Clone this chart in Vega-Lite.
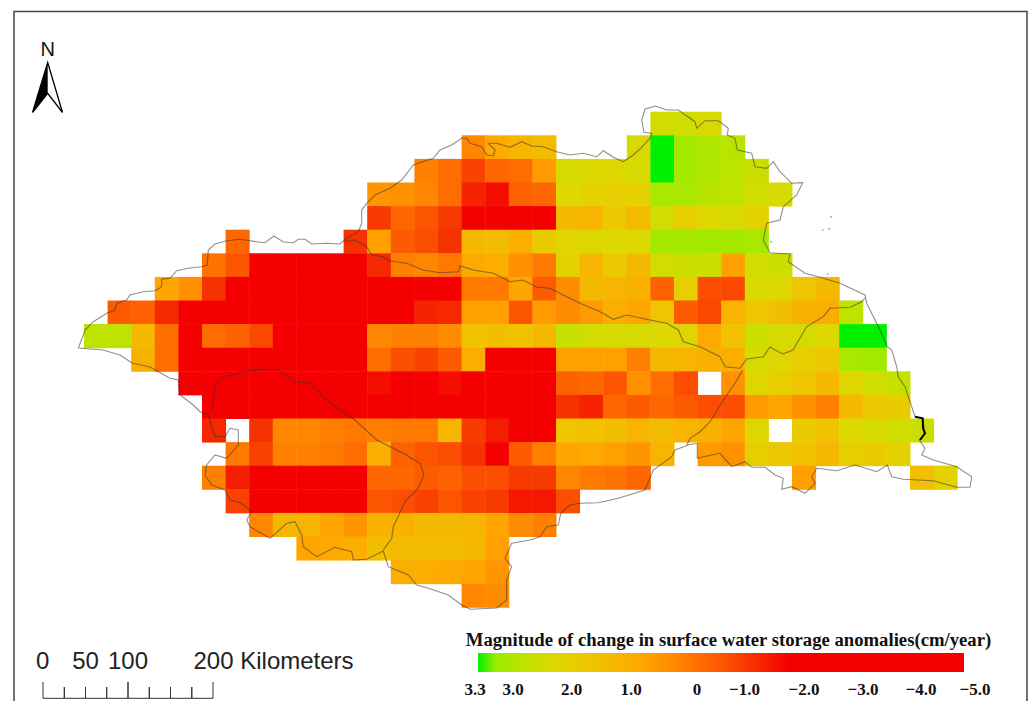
{
"$schema":"https://vega.github.io/schema/vega-lite/v6.json",
"width":1029,"height":701,"padding":0,"autosize":{"type":"none"},"background":"white",
"config":{"view":{"stroke":null}},
"resolve":{"scale":{"x":"independent","y":"independent"}},
"encoding":{
"x":{"field":"mx","type":"quantitative","axis":null,"scale":{"domain":[0,1029],"nice":false,"zero":false}},
"y":{"field":"my","type":"quantitative","axis":null,"scale":{"domain":[701,0],"nice":false,"zero":false}}
},
"layer":[
{"data":{"values":[
{"c":24,"r":0,"v":2.2},{"c":25,"r":0,"v":2.2},{"c":26,"r":0,"v":2.05},
{"c":16,"r":1,"v":-0.1},{"c":17,"r":1,"v":0.6},{"c":18,"r":1,"v":0.9},{"c":19,"r":1,"v":1.1},{"c":23,"r":1,"v":2.1},{"c":24,"r":1,"v":3.3},{"c":25,"r":1,"v":2.9},{"c":26,"r":1,"v":2.75},{"c":27,"r":1,"v":2.6},
{"c":14,"r":2,"v":-0.2},{"c":15,"r":2,"v":-0.5},{"c":16,"r":2,"v":-1.2},{"c":17,"r":2,"v":-0.6},{"c":18,"r":2,"v":-0.5},{"c":19,"r":2,"v":0.3},{"c":20,"r":2,"v":2.1},{"c":21,"r":2,"v":2.0},{"c":22,"r":2,"v":2.0},{"c":23,"r":2,"v":2.1},{"c":24,"r":2,"v":3.3},{"c":25,"r":2,"v":2.85},{"c":26,"r":2,"v":2.7},{"c":27,"r":2,"v":2.55},{"c":28,"r":2,"v":2.3},
{"c":12,"r":3,"v":0.2},{"c":13,"r":3,"v":0.1},{"c":14,"r":3,"v":-0.1},{"c":15,"r":3,"v":-0.5},{"c":16,"r":3,"v":-1.6},{"c":17,"r":3,"v":-1.9},{"c":18,"r":3,"v":-0.7},{"c":19,"r":3,"v":-0.6},{"c":20,"r":3,"v":2.0},{"c":21,"r":3,"v":1.8},{"c":22,"r":3,"v":1.7},{"c":23,"r":3,"v":1.8},{"c":24,"r":3,"v":2.8},{"c":25,"r":3,"v":2.8},{"c":26,"r":3,"v":2.6},{"c":27,"r":3,"v":2.5},{"c":28,"r":3,"v":2.2},{"c":29,"r":3,"v":2.1},
{"c":12,"r":4,"v":-1.3},{"c":13,"r":4,"v":-0.6},{"c":14,"r":4,"v":-0.9},{"c":15,"r":4,"v":-1.3},{"c":16,"r":4,"v":-2.5},{"c":17,"r":4,"v":-2.5},{"c":18,"r":4,"v":-2.5},{"c":19,"r":4,"v":-2.5},{"c":20,"r":4,"v":1.0},{"c":21,"r":4,"v":0.9},{"c":22,"r":4,"v":1.5},{"c":23,"r":4,"v":1.1},{"c":24,"r":4,"v":2.2},{"c":25,"r":4,"v":1.7},{"c":26,"r":4,"v":2.0},{"c":27,"r":4,"v":2.1},{"c":28,"r":4,"v":1.8},
{"c":6,"r":5,"v":-0.6},{"c":11,"r":5,"v":-1.4},{"c":12,"r":5,"v":0.4},{"c":13,"r":5,"v":-0.8},{"c":14,"r":5,"v":-1.0},{"c":15,"r":5,"v":-1.4},{"c":16,"r":5,"v":1.0},{"c":17,"r":5,"v":1.1},{"c":18,"r":5,"v":0.7},{"c":19,"r":5,"v":1.6},{"c":20,"r":5,"v":1.9},{"c":21,"r":5,"v":2.0},{"c":22,"r":5,"v":2.0},{"c":23,"r":5,"v":2.0},{"c":24,"r":5,"v":2.85},{"c":25,"r":5,"v":2.85},{"c":26,"r":5,"v":2.9},{"c":27,"r":5,"v":2.85},{"c":28,"r":5,"v":2.8},
{"c":5,"r":6,"v":-0.4},{"c":6,"r":6,"v":-0.9},{"c":7,"r":6,"v":-2.5},{"c":8,"r":6,"v":-2.5},{"c":9,"r":6,"v":-2.5},{"c":10,"r":6,"v":-2.5},{"c":11,"r":6,"v":-2.5},{"c":12,"r":6,"v":-1.5},{"c":13,"r":6,"v":-0.2},{"c":14,"r":6,"v":-0.1},{"c":15,"r":6,"v":-0.3},{"c":16,"r":6,"v":0.6},{"c":17,"r":6,"v":0.7},{"c":18,"r":6,"v":0.1},{"c":19,"r":6,"v":-0.3},{"c":20,"r":6,"v":1.8},{"c":21,"r":6,"v":0.9},{"c":22,"r":6,"v":1.5},{"c":23,"r":6,"v":1.0},{"c":24,"r":6,"v":2.2},{"c":25,"r":6,"v":2.3},{"c":26,"r":6,"v":2.3},{"c":27,"r":6,"v":0.4},{"c":28,"r":6,"v":2.2},{"c":29,"r":6,"v":2.3},
{"c":3,"r":7,"v":0.5},{"c":4,"r":7,"v":0.1},{"c":5,"r":7,"v":-1.4},{"c":6,"r":7,"v":-2.5},{"c":7,"r":7,"v":-2.5},{"c":8,"r":7,"v":-2.5},{"c":9,"r":7,"v":-2.5},{"c":10,"r":7,"v":-2.5},{"c":11,"r":7,"v":-2.5},{"c":12,"r":7,"v":-2.5},{"c":13,"r":7,"v":-2.5},{"c":14,"r":7,"v":-2.5},{"c":15,"r":7,"v":-2.5},{"c":16,"r":7,"v":-0.3},{"c":17,"r":7,"v":-0.3},{"c":18,"r":7,"v":0.5},{"c":19,"r":7,"v":-0.8},{"c":20,"r":7,"v":0.0},{"c":21,"r":7,"v":1.0},{"c":22,"r":7,"v":0.9},{"c":23,"r":7,"v":0.8},{"c":24,"r":7,"v":-0.7},{"c":25,"r":7,"v":1.7},{"c":26,"r":7,"v":-1.0},{"c":27,"r":7,"v":-1.1},{"c":28,"r":7,"v":2.1},{"c":29,"r":7,"v":2.0},{"c":30,"r":7,"v":1.4},{"c":31,"r":7,"v":1.0},
{"c":1,"r":8,"v":-0.8},{"c":2,"r":8,"v":-0.7},{"c":3,"r":8,"v":-1.5},{"c":4,"r":8,"v":-2.5},{"c":5,"r":8,"v":-2.5},{"c":6,"r":8,"v":-2.5},{"c":7,"r":8,"v":-2.5},{"c":8,"r":8,"v":-2.5},{"c":9,"r":8,"v":-2.5},{"c":10,"r":8,"v":-2.5},{"c":11,"r":8,"v":-2.5},{"c":12,"r":8,"v":-2.5},{"c":13,"r":8,"v":-2.5},{"c":14,"r":8,"v":-1.6},{"c":15,"r":8,"v":-1.5},{"c":16,"r":8,"v":0.4},{"c":17,"r":8,"v":0.4},{"c":18,"r":8,"v":-0.9},{"c":19,"r":8,"v":0.3},{"c":20,"r":8,"v":0.0},{"c":21,"r":8,"v":0.3},{"c":22,"r":8,"v":0.7},{"c":23,"r":8,"v":0.5},{"c":24,"r":8,"v":1.4},{"c":25,"r":8,"v":-0.8},{"c":26,"r":8,"v":-1.1},{"c":27,"r":8,"v":0.9},{"c":28,"r":8,"v":1.4},{"c":29,"r":8,"v":1.2},{"c":30,"r":8,"v":0.8},{"c":31,"r":8,"v":0.7},{"c":32,"r":8,"v":2.5},
{"c":0,"r":9,"v":2.5},{"c":1,"r":9,"v":2.5},{"c":2,"r":9,"v":1.0},{"c":3,"r":9,"v":-0.5},{"c":4,"r":9,"v":-2.5},{"c":5,"r":9,"v":-0.5},{"c":6,"r":9,"v":-0.7},{"c":7,"r":9,"v":-1.1},{"c":8,"r":9,"v":-2.3},{"c":9,"r":9,"v":-2.5},{"c":10,"r":9,"v":-2.5},{"c":11,"r":9,"v":-2.5},{"c":12,"r":9,"v":-0.1},{"c":13,"r":9,"v":-0.2},{"c":14,"r":9,"v":-0.2},{"c":15,"r":9,"v":0.0},{"c":16,"r":9,"v":1.3},{"c":17,"r":9,"v":1.2},{"c":18,"r":9,"v":1.3},{"c":19,"r":9,"v":1.0},{"c":20,"r":9,"v":2.4},{"c":21,"r":9,"v":2.2},{"c":22,"r":9,"v":2.1},{"c":23,"r":9,"v":2.1},{"c":24,"r":9,"v":2.0},{"c":25,"r":9,"v":1.9},{"c":26,"r":9,"v":0.6},{"c":27,"r":9,"v":1.3},{"c":28,"r":9,"v":2.3},{"c":29,"r":9,"v":2.1},{"c":30,"r":9,"v":2.1},{"c":31,"r":9,"v":2.0},{"c":32,"r":9,"v":3.3},{"c":33,"r":9,"v":3.3},
{"c":2,"r":10,"v":0.8},{"c":3,"r":10,"v":-0.5},{"c":4,"r":10,"v":-2.5},{"c":5,"r":10,"v":-2.5},{"c":6,"r":10,"v":-2.5},{"c":7,"r":10,"v":-2.5},{"c":8,"r":10,"v":-2.5},{"c":9,"r":10,"v":-2.5},{"c":10,"r":10,"v":-2.5},{"c":11,"r":10,"v":-2.5},{"c":12,"r":10,"v":-0.5},{"c":13,"r":10,"v":-1.0},{"c":14,"r":10,"v":-1.2},{"c":15,"r":10,"v":-0.8},{"c":16,"r":10,"v":0.7},{"c":17,"r":10,"v":-2.5},{"c":18,"r":10,"v":-2.5},{"c":19,"r":10,"v":-2.5},{"c":20,"r":10,"v":0.4},{"c":21,"r":10,"v":0.4},{"c":22,"r":10,"v":0.4},{"c":23,"r":10,"v":-0.2},{"c":24,"r":10,"v":1.0},{"c":25,"r":10,"v":0.9},{"c":26,"r":10,"v":0.8},{"c":27,"r":10,"v":0.7},{"c":28,"r":10,"v":2.1},{"c":29,"r":10,"v":1.9},{"c":30,"r":10,"v":1.7},{"c":31,"r":10,"v":1.5},{"c":32,"r":10,"v":2.8},{"c":33,"r":10,"v":2.9},
{"c":4,"r":11,"v":-2.5},{"c":5,"r":11,"v":-2.5},{"c":6,"r":11,"v":-2.5},{"c":7,"r":11,"v":-2.5},{"c":8,"r":11,"v":-2.5},{"c":9,"r":11,"v":-2.5},{"c":10,"r":11,"v":-2.5},{"c":11,"r":11,"v":-2.5},{"c":12,"r":11,"v":-1.9},{"c":13,"r":11,"v":-2.5},{"c":14,"r":11,"v":-2.5},{"c":15,"r":11,"v":-1.9},{"c":16,"r":11,"v":-2.5},{"c":17,"r":11,"v":-2.5},{"c":18,"r":11,"v":-2.5},{"c":19,"r":11,"v":-2.5},{"c":20,"r":11,"v":-0.7},{"c":21,"r":11,"v":-0.6},{"c":22,"r":11,"v":-0.9},{"c":23,"r":11,"v":0.1},{"c":24,"r":11,"v":-0.5},{"c":25,"r":11,"v":-1.0},{"c":27,"r":11,"v":0.1},{"c":28,"r":11,"v":1.9},{"c":29,"r":11,"v":1.7},{"c":30,"r":11,"v":1.4},{"c":31,"r":11,"v":1.0},{"c":32,"r":11,"v":1.9},{"c":33,"r":11,"v":2.2},{"c":34,"r":11,"v":2.4},
{"c":5,"r":12,"v":-2.5},{"c":6,"r":12,"v":-2.5},{"c":7,"r":12,"v":-2.5},{"c":8,"r":12,"v":-2.5},{"c":9,"r":12,"v":-2.5},{"c":10,"r":12,"v":-2.5},{"c":11,"r":12,"v":-2.5},{"c":12,"r":12,"v":-2.5},{"c":13,"r":12,"v":-2.5},{"c":14,"r":12,"v":-2.5},{"c":15,"r":12,"v":-2.5},{"c":16,"r":12,"v":-2.5},{"c":17,"r":12,"v":-2.5},{"c":18,"r":12,"v":-2.5},{"c":19,"r":12,"v":-2.5},{"c":20,"r":12,"v":-1.4},{"c":21,"r":12,"v":-1.6},{"c":22,"r":12,"v":-0.6},{"c":23,"r":12,"v":-0.8},{"c":24,"r":12,"v":-0.6},{"c":25,"r":12,"v":-0.8},{"c":26,"r":12,"v":-1.0},{"c":27,"r":12,"v":-1.0},{"c":28,"r":12,"v":0.3},{"c":29,"r":12,"v":0.5},{"c":30,"r":12,"v":0.1},{"c":31,"r":12,"v":-0.2},{"c":32,"r":12,"v":1.0},{"c":33,"r":12,"v":1.5},{"c":34,"r":12,"v":1.6},
{"c":5,"r":13,"v":-1.5},{"c":7,"r":13,"v":-1.4},{"c":8,"r":13,"v":-0.1},{"c":9,"r":13,"v":-0.1},{"c":10,"r":13,"v":-0.2},{"c":11,"r":13,"v":-0.3},{"c":12,"r":13,"v":-0.2},{"c":13,"r":13,"v":-0.3},{"c":14,"r":13,"v":-0.3},{"c":15,"r":13,"v":0.9},{"c":16,"r":13,"v":-1.3},{"c":17,"r":13,"v":-1.7},{"c":18,"r":13,"v":-2.5},{"c":19,"r":13,"v":-2.5},{"c":20,"r":13,"v":1.4},{"c":21,"r":13,"v":1.3},{"c":22,"r":13,"v":1.2},{"c":23,"r":13,"v":0.9},{"c":24,"r":13,"v":1.1},{"c":25,"r":13,"v":0.9},{"c":26,"r":13,"v":0.8},{"c":27,"r":13,"v":0.5},{"c":28,"r":13,"v":1.9},{"c":30,"r":13,"v":1.6},{"c":31,"r":13,"v":1.3},{"c":32,"r":13,"v":2.0},{"c":33,"r":13,"v":2.1},{"c":34,"r":13,"v":2.2},{"c":35,"r":13,"v":2.3},
{"c":6,"r":14,"v":-0.3},{"c":7,"r":14,"v":-1.2},{"c":8,"r":14,"v":-0.2},{"c":9,"r":14,"v":-0.2},{"c":10,"r":14,"v":-0.3},{"c":11,"r":14,"v":-0.5},{"c":12,"r":14,"v":0.7},{"c":13,"r":14,"v":-0.7},{"c":14,"r":14,"v":-0.9},{"c":15,"r":14,"v":-1.0},{"c":16,"r":14,"v":-1.4},{"c":17,"r":14,"v":-2.5},{"c":18,"r":14,"v":-0.8},{"c":19,"r":14,"v":-0.2},{"c":20,"r":14,"v":0.5},{"c":21,"r":14,"v":0.6},{"c":22,"r":14,"v":0.4},{"c":23,"r":14,"v":0.2},{"c":24,"r":14,"v":0.9},{"c":26,"r":14,"v":0.3},{"c":27,"r":14,"v":0.1},{"c":28,"r":14,"v":1.7},{"c":29,"r":14,"v":1.5},{"c":30,"r":14,"v":1.3},{"c":31,"r":14,"v":1.0},{"c":32,"r":14,"v":1.7},{"c":33,"r":14,"v":1.6},{"c":34,"r":14,"v":1.8},
{"c":5,"r":15,"v":-0.2},{"c":6,"r":15,"v":-1.7},{"c":7,"r":15,"v":-2.5},{"c":8,"r":15,"v":-2.5},{"c":9,"r":15,"v":-2.5},{"c":10,"r":15,"v":-2.5},{"c":11,"r":15,"v":-2.5},{"c":12,"r":15,"v":-0.6},{"c":13,"r":15,"v":-0.6},{"c":14,"r":15,"v":-0.8},{"c":15,"r":15,"v":-0.7},{"c":16,"r":15,"v":-1.0},{"c":17,"r":15,"v":-1.0},{"c":18,"r":15,"v":-1.3},{"c":19,"r":15,"v":-1.3},{"c":20,"r":15,"v":-0.1},{"c":21,"r":15,"v":-0.3},{"c":22,"r":15,"v":-0.4},{"c":23,"r":15,"v":-0.6},{"c":30,"r":15,"v":0.4},{"c":35,"r":15,"v":1.2},{"c":36,"r":15,"v":1.8},
{"c":6,"r":16,"v":-1.2},{"c":7,"r":16,"v":-2.5},{"c":8,"r":16,"v":-2.5},{"c":9,"r":16,"v":-2.5},{"c":10,"r":16,"v":-2.5},{"c":11,"r":16,"v":-2.5},{"c":12,"r":16,"v":-0.9},{"c":13,"r":16,"v":-1.0},{"c":14,"r":16,"v":-1.2},{"c":15,"r":16,"v":-0.9},{"c":16,"r":16,"v":-1.2},{"c":17,"r":16,"v":-1.3},{"c":18,"r":16,"v":-1.8},{"c":19,"r":16,"v":-1.8},{"c":20,"r":16,"v":-1.0},
{"c":7,"r":17,"v":-0.1},{"c":8,"r":17,"v":1.0},{"c":9,"r":17,"v":0.9},{"c":10,"r":17,"v":0.5},{"c":11,"r":17,"v":0.2},{"c":12,"r":17,"v":0.8},{"c":13,"r":17,"v":0.8},{"c":14,"r":17,"v":1.0},{"c":15,"r":17,"v":1.0},{"c":16,"r":17,"v":0.9},{"c":17,"r":17,"v":0.5},{"c":18,"r":17,"v":0.0},{"c":19,"r":17,"v":-0.2},
{"c":9,"r":18,"v":0.5},{"c":10,"r":18,"v":0.6},{"c":11,"r":18,"v":0.7},{"c":12,"r":18,"v":1.2},{"c":13,"r":18,"v":1.1},{"c":14,"r":18,"v":1.1},{"c":15,"r":18,"v":1.1},{"c":16,"r":18,"v":1.0},{"c":17,"r":18,"v":0.4},
{"c":13,"r":19,"v":0.7},{"c":14,"r":19,"v":0.7},{"c":15,"r":19,"v":0.6},{"c":16,"r":19,"v":0.5},{"c":17,"r":19,"v":0.2},
{"c":16,"r":20,"v":-0.1},{"c":17,"r":20,"v":0.0}
]},
"transform":[{"calculate":"datum.c+1.02","as":"c2"},{"calculate":"datum.r+1.02","as":"r2"}],
"mark":{"type":"rect","strokeWidth":0},
"encoding":{
"x":{"field":"c","type":"quantitative","axis":null,"scale":{"domain":[-3.559,40.042],"nice":false,"zero":false}},
"x2":{"field":"c2"},
"y":{"field":"r","type":"quantitative","axis":null,"scale":{"domain":[24.97,-4.733],"nice":false,"zero":false}},
"y2":{"field":"r2"},
"color":{"field":"v","type":"quantitative",
"scale":{"domain":[3.3,3,2.5,2,1.5,1,0.5,0,-0.5,-1,-1.5,-2,-5],"range":["#00f000","#98ec00","#c0e200","#dcd800","#ecc800","#f5b800","#ffa500","#ff8c00","#ff6c00","#fb4e00","#f52800","#f50000","#f50000"],"clamp":true},
"legend":{"orient":"none","legendX":478,"legendY":653,"direction":"horizontal","gradientLength":486,"gradientThickness":19,"title":null,"labelExpr":"''","gradientStrokeWidth":0,"values":[3.3,-5]}}
}},
{"data":{"values":[
{"id":"outer","mx":78.3,"my":348},{"id":"outer","mx":83.3,"my":335},{"id":"outer","mx":85,"my":330},{"id":"outer","mx":93.3,"my":321.7},{"id":"outer","mx":106.7,"my":313.3},{"id":"outer","mx":115,"my":310},{"id":"outer","mx":116.7,"my":303.3},{"id":"outer","mx":126.7,"my":300},{"id":"outer","mx":130,"my":295},{"id":"outer","mx":143.3,"my":291.7},{"id":"outer","mx":155,"my":290.7},{"id":"outer","mx":161.7,"my":286.7},{"id":"outer","mx":161.7,"my":279.3},{"id":"outer","mx":170,"my":278.3},{"id":"outer","mx":176.7,"my":270.7},{"id":"outer","mx":188.3,"my":268.3},{"id":"outer","mx":201.7,"my":266.7},{"id":"outer","mx":207.3,"my":265},{"id":"outer","mx":208.3,"my":250},{"id":"outer","mx":215,"my":244},{"id":"outer","mx":226.7,"my":240.7},{"id":"outer","mx":240,"my":239.3},{"id":"outer","mx":256.7,"my":241.7},{"id":"outer","mx":265,"my":242.7},{"id":"outer","mx":274,"my":236},{"id":"outer","mx":283.3,"my":242},{"id":"outer","mx":293.3,"my":242.7},{"id":"outer","mx":298.3,"my":239.3},{"id":"outer","mx":305,"my":239.3},{"id":"outer","mx":311.7,"my":244},{"id":"outer","mx":326.7,"my":243.3},{"id":"outer","mx":340,"my":244},{"id":"outer","mx":346.7,"my":238.3},{"id":"outer","mx":358.3,"my":231.7},{"id":"outer","mx":361.7,"my":223.3},{"id":"outer","mx":361.7,"my":210},{"id":"outer","mx":366.7,"my":203.3},{"id":"outer","mx":375,"my":195},{"id":"outer","mx":390,"my":188.3},{"id":"outer","mx":401.7,"my":180},{"id":"outer","mx":413.3,"my":165},{"id":"outer","mx":433.3,"my":158.3},{"id":"outer","mx":440,"my":150},{"id":"outer","mx":451.7,"my":145},{"id":"outer","mx":461.7,"my":138.3},{"id":"outer","mx":466.7,"my":138.3},{"id":"outer","mx":470,"my":143.3},{"id":"outer","mx":481.7,"my":146.7},{"id":"outer","mx":486.7,"my":155},{"id":"outer","mx":493.3,"my":156},{"id":"outer","mx":495,"my":150},{"id":"outer","mx":488.3,"my":143.3},{"id":"outer","mx":496.7,"my":143.3},{"id":"outer","mx":510,"my":147.3},{"id":"outer","mx":521.7,"my":141.7},{"id":"outer","mx":531.7,"my":146},{"id":"outer","mx":543.3,"my":146.7},{"id":"outer","mx":556.7,"my":151.7},{"id":"outer","mx":570,"my":155},{"id":"outer","mx":583.3,"my":153.3},{"id":"outer","mx":596.7,"my":156.7},{"id":"outer","mx":603.3,"my":150.7},{"id":"outer","mx":613.3,"my":157.3},{"id":"outer","mx":623.3,"my":161.7},{"id":"outer","mx":633.3,"my":155},{"id":"outer","mx":641.7,"my":147.3},{"id":"outer","mx":650,"my":138.3},{"id":"outer","mx":651.7,"my":133.3},{"id":"outer","mx":644,"my":132.3},{"id":"outer","mx":641.7,"my":120},{"id":"outer","mx":645,"my":109.3},{"id":"outer","mx":655,"my":106},{"id":"outer","mx":666.7,"my":110},{"id":"outer","mx":678.3,"my":110},{"id":"outer","mx":695,"my":121.7},{"id":"outer","mx":696.7,"my":128.3},{"id":"outer","mx":705,"my":120.7},{"id":"outer","mx":718.3,"my":120.7},{"id":"outer","mx":728.3,"my":128.3},{"id":"outer","mx":727.3,"my":135},{"id":"outer","mx":735,"my":138.3},{"id":"outer","mx":737.3,"my":150},{"id":"outer","mx":751.7,"my":153.3},{"id":"outer","mx":755,"my":166.7},{"id":"outer","mx":766.7,"my":168.3},{"id":"outer","mx":773.3,"my":161.7},{"id":"outer","mx":780,"my":171.7},{"id":"outer","mx":791.7,"my":183.3},{"id":"outer","mx":802.7,"my":182.7},{"id":"outer","mx":796.7,"my":195},{"id":"outer","mx":783.3,"my":206.7},{"id":"outer","mx":780,"my":220},{"id":"outer","mx":766.7,"my":223.3},{"id":"outer","mx":763.3,"my":240},{"id":"outer","mx":770,"my":252.7},{"id":"outer","mx":790,"my":254},{"id":"outer","mx":788.3,"my":261.7},{"id":"outer","mx":805,"my":273.3},{"id":"outer","mx":818.3,"my":276.7},{"id":"outer","mx":840,"my":283.3},{"id":"outer","mx":865,"my":295},{"id":"outer","mx":866.7,"my":303.3},{"id":"outer","mx":880,"my":330},{"id":"outer","mx":887.3,"my":346.7},{"id":"outer","mx":891.7,"my":350},{"id":"outer","mx":896.7,"my":366.7},{"id":"outer","mx":898.3,"my":376.7},{"id":"outer","mx":905,"my":386.7},{"id":"outer","mx":911.7,"my":406.7},{"id":"outer","mx":915,"my":416.7},{"id":"outer","mx":922.7,"my":418.3},{"id":"outer","mx":925,"my":433.3},{"id":"outer","mx":919.3,"my":440},{"id":"outer","mx":925,"my":448.3},{"id":"outer","mx":921.7,"my":455},{"id":"outer","mx":933.3,"my":460},{"id":"outer","mx":956.7,"my":466.7},{"id":"outer","mx":971.7,"my":476.7},{"id":"outer","mx":970,"my":487.3},{"id":"outer","mx":956.7,"my":487.3},{"id":"outer","mx":933.3,"my":480.7},{"id":"outer","mx":903.3,"my":479.3},{"id":"outer","mx":891.7,"my":476.7},{"id":"outer","mx":887.3,"my":465},{"id":"outer","mx":876.7,"my":471.7},{"id":"outer","mx":855,"my":465},{"id":"outer","mx":836.7,"my":470.7},{"id":"outer","mx":816.7,"my":468.3},{"id":"outer","mx":811.7,"my":476.7},{"id":"outer","mx":815,"my":483.3},{"id":"outer","mx":805,"my":493.3},{"id":"outer","mx":791.7,"my":486.7},{"id":"outer","mx":781.7,"my":489.3},{"id":"outer","mx":783.3,"my":478.3},{"id":"outer","mx":775,"my":475},{"id":"outer","mx":765,"my":467.3},{"id":"outer","mx":751.7,"my":467.3},{"id":"outer","mx":745,"my":461.7},{"id":"outer","mx":731.7,"my":466.7},{"id":"outer","mx":720,"my":453.3},{"id":"outer","mx":703.3,"my":456.7},{"id":"outer","mx":697.3,"my":458.3},{"id":"outer","mx":697.3,"my":443.3},{"id":"outer","mx":688.3,"my":445},{"id":"outer","mx":675,"my":450},{"id":"outer","mx":671.7,"my":456.7},{"id":"outer","mx":653.3,"my":470},{"id":"outer","mx":645,"my":490},{"id":"outer","mx":618.3,"my":498.3},{"id":"outer","mx":598.3,"my":502.7},{"id":"outer","mx":580,"my":503.3},{"id":"outer","mx":570,"my":505},{"id":"outer","mx":560.7,"my":513.3},{"id":"outer","mx":558.3,"my":525},{"id":"outer","mx":546.7,"my":526.7},{"id":"outer","mx":540,"my":536.7},{"id":"outer","mx":530,"my":540},{"id":"outer","mx":511.7,"my":543.3},{"id":"outer","mx":505,"my":558.3},{"id":"outer","mx":511.7,"my":566.7},{"id":"outer","mx":506.7,"my":580},{"id":"outer","mx":506.7,"my":600},{"id":"outer","mx":496.7,"my":608},{"id":"outer","mx":470,"my":609.3},{"id":"outer","mx":461.7,"my":605},{"id":"outer","mx":448.3,"my":595},{"id":"outer","mx":428.3,"my":588.3},{"id":"outer","mx":416.7,"my":585},{"id":"outer","mx":408.3,"my":575},{"id":"outer","mx":388.3,"my":566.7},{"id":"outer","mx":383.3,"my":551},{"id":"outer","mx":366.7,"my":559.3},{"id":"outer","mx":353.3,"my":560},{"id":"outer","mx":351.7,"my":551.7},{"id":"outer","mx":335,"my":547.3},{"id":"outer","mx":316.7,"my":556.7},{"id":"outer","mx":303.3,"my":546.7},{"id":"outer","mx":301.7,"my":535},{"id":"outer","mx":295,"my":521.7},{"id":"outer","mx":286.7,"my":523.3},{"id":"outer","mx":270,"my":538.3},{"id":"outer","mx":250,"my":526.7},{"id":"outer","mx":246.7,"my":520},{"id":"outer","mx":251.7,"my":511.7},{"id":"outer","mx":241.7,"my":503.3},{"id":"outer","mx":230,"my":500},{"id":"outer","mx":225,"my":490},{"id":"outer","mx":211.7,"my":485},{"id":"outer","mx":205,"my":475},{"id":"outer","mx":206.7,"my":465},{"id":"outer","mx":215,"my":455},{"id":"outer","mx":226.7,"my":458.3},{"id":"outer","mx":238.3,"my":445},{"id":"outer","mx":238.3,"my":430},{"id":"outer","mx":230,"my":428.3},{"id":"outer","mx":225,"my":436.7},{"id":"outer","mx":215,"my":436.7},{"id":"outer","mx":208.3,"my":415},{"id":"outer","mx":200,"my":411.7},{"id":"outer","mx":193.3,"my":405},{"id":"outer","mx":180,"my":395},{"id":"outer","mx":178.3,"my":380},{"id":"outer","mx":170,"my":378.3},{"id":"outer","mx":150,"my":367},{"id":"outer","mx":132,"my":363},{"id":"outer","mx":120,"my":355},{"id":"outer","mx":103,"my":350},{"id":"outer","mx":78.3,"my":348},
{"id":"a","mx":345,"my":241.7},{"id":"a","mx":355,"my":240},{"id":"a","mx":366.7,"my":246.7},{"id":"a","mx":371.7,"my":255},{"id":"a","mx":383.3,"my":256.7},{"id":"a","mx":388.3,"my":260.7},{"id":"a","mx":406.7,"my":263.3},{"id":"a","mx":423.3,"my":270},{"id":"a","mx":440,"my":272.7},{"id":"a","mx":458.3,"my":271.7},{"id":"a","mx":460,"my":266},{"id":"a","mx":473.3,"my":270},{"id":"a","mx":493.3,"my":273.3},{"id":"a","mx":510,"my":281.7},{"id":"a","mx":523.3,"my":280},{"id":"a","mx":536.7,"my":287.3},{"id":"a","mx":550,"my":288.3},{"id":"a","mx":566.7,"my":296.7},{"id":"a","mx":580,"my":303.3},{"id":"a","mx":600,"my":311.7},{"id":"a","mx":613.3,"my":319.3},{"id":"a","mx":626.7,"my":315},{"id":"a","mx":650,"my":320},{"id":"a","mx":666.7,"my":323.3},{"id":"a","mx":678.3,"my":330},{"id":"a","mx":683.3,"my":341.7},{"id":"a","mx":700,"my":346.7},{"id":"a","mx":720,"my":356.7},{"id":"a","mx":725,"my":366.7},{"id":"a","mx":740,"my":368.3},
{"id":"b","mx":740,"my":368.3},{"id":"b","mx":746.7,"my":359},{"id":"b","mx":763.3,"my":356.7},{"id":"b","mx":770,"my":347},{"id":"b","mx":775,"my":350},{"id":"b","mx":783,"my":354},{"id":"b","mx":793,"my":350},{"id":"b","mx":797,"my":343},{"id":"b","mx":806.7,"my":326.7},{"id":"b","mx":823.3,"my":316.7},{"id":"b","mx":830,"my":308.3},{"id":"b","mx":850,"my":307.3},{"id":"b","mx":861.7,"my":301.7},{"id":"b","mx":865,"my":298},
{"id":"c","mx":742.7,"my":370},{"id":"c","mx":735,"my":383.3},{"id":"c","mx":723.3,"my":400},{"id":"c","mx":710,"my":421.7},{"id":"c","mx":700,"my":431.7},{"id":"c","mx":690,"my":438.3},{"id":"c","mx":686.7,"my":445},
{"id":"d","mx":211.7,"my":411.7},{"id":"d","mx":213.3,"my":400},{"id":"d","mx":215,"my":388.3},{"id":"d","mx":220,"my":378.3},{"id":"d","mx":246.7,"my":370.7},{"id":"d","mx":276.7,"my":369.3},{"id":"d","mx":295,"my":381.7},{"id":"d","mx":310,"my":383.3},{"id":"d","mx":326.7,"my":400},{"id":"d","mx":355,"my":420},{"id":"d","mx":376.7,"my":440},{"id":"d","mx":403.3,"my":453.3},{"id":"d","mx":420,"my":463.3},{"id":"d","mx":424,"my":475},{"id":"d","mx":418.3,"my":488.3},{"id":"d","mx":405,"my":501.7},{"id":"d","mx":393.3,"my":526.7},{"id":"d","mx":391.7,"my":538.3},{"id":"d","mx":383.3,"my":550}
]},
"mark":{"type":"line","stroke":"#333333","strokeWidth":1.1,"opacity":0.55},
"encoding":{"detail":{"field":"id"},"order":{"value":null}}},
{"data":{"values":[{"mx":915,"my":416.7},{"mx":922.7,"my":418.3},{"mx":923,"my":428},{"mx":925,"my":433.3},{"mx":920,"my":440}]},
"mark":{"type":"line","stroke":"#000000","strokeWidth":2},"encoding":{"order":{"value":null}}},
{"data":{"values":[{"mx":831,"my":216.7},{"mx":822.7,"my":230},{"mx":829.3,"my":228.7},{"mx":771,"my":241.7},{"mx":827.7,"my":274}]},
"mark":{"type":"point","filled":true,"color":"#666666","size":3}},
{"data":{"values":[{"mx":14,"my":701},{"mx":14,"my":11.5},{"mx":1027,"my":11.5},{"mx":1027,"my":701}]},
"mark":{"type":"line","stroke":"#444444","strokeWidth":1.5},"encoding":{"order":{"value":null}}},
{"data":{"values":[{"mx":32.5,"my":112.5,"my2":112.5},{"mx":47.7,"my":62.5,"my2":93.3}]},
"mark":{"type":"area","color":"#000000","orient":"vertical"},"encoding":{"y2":{"field":"my2"},"order":{"value":null}}},
{"data":{"values":[{"mx":32.5,"my":112.5},{"mx":47.7,"my":93.3},{"mx":62.5,"my":112.5},{"mx":47.7,"my":62.5},{"mx":32.5,"my":112.5}]},
"mark":{"type":"line","stroke":"#000000","strokeWidth":1.3},"encoding":{"order":{"value":null}}},
{"data":{"values":[{"mx":43,"my":682},{"mx":43,"my":698.3},{"mx":64.3,"my":698.3},{"mx":64.3,"my":687},{"mx":64.3,"my":698.3},{"mx":85.5,"my":698.3},{"mx":85.5,"my":687},{"mx":85.5,"my":698.3},{"mx":106.7,"my":698.3},{"mx":106.7,"my":687},{"mx":106.7,"my":698.3},{"mx":128,"my":698.3},{"mx":128,"my":682},{"mx":128,"my":698.3},{"mx":149.3,"my":698.3},{"mx":149.3,"my":687},{"mx":149.3,"my":698.3},{"mx":170.5,"my":698.3},{"mx":170.5,"my":687},{"mx":170.5,"my":698.3},{"mx":191.8,"my":698.3},{"mx":191.8,"my":687},{"mx":191.8,"my":698.3},{"mx":213,"my":698.3},{"mx":213,"my":682}]},
"mark":{"type":"line","stroke":"#333333","strokeWidth":1},"encoding":{"order":{"value":null}}},
{"data":{"values":[{"t":"N","mx":47.7,"my":50}]},
"mark":{"type":"text","font":"Liberation Sans","fontSize":20,"align":"center","baseline":"middle","color":"#111111"},
"encoding":{"text":{"field":"t"}}},
{"data":{"values":[{"t":"0","mx":42.7,"my":662},{"t":"50","mx":85.5,"my":662},{"t":"100","mx":128,"my":662}]},
"mark":{"type":"text","font":"Liberation Sans","fontSize":24,"align":"center","baseline":"middle","color":"#222222"},
"encoding":{"text":{"field":"t"}}},
{"data":{"values":[{"t":"200 Kilometers","mx":193.5,"my":662}]},
"mark":{"type":"text","font":"Liberation Sans","fontSize":24,"align":"left","baseline":"middle","color":"#222222"},
"encoding":{"text":{"field":"t"}}},
{"data":{"values":[{"t":"Magnitude of change in surface water storage anomalies(cm/year)","mx":728.5,"my":640}]},
"mark":{"type":"text","font":"Liberation Serif","fontWeight":"bold","fontSize":18.7,"align":"center","baseline":"middle","color":"#111111"},
"encoding":{"text":{"field":"t"}}},
{"data":{"values":[{"t":"3.3","mx":475,"my":690},{"t":"3.0","mx":513,"my":690},{"t":"2.0","mx":571.5,"my":690},{"t":"1.0","mx":631,"my":690},{"t":"0","mx":697,"my":690},{"t":"−1.0","mx":744.5,"my":690},{"t":"−2.0","mx":804,"my":690},{"t":"−3.0","mx":863,"my":690},{"t":"−4.0","mx":921,"my":690},{"t":"−5.0","mx":975,"my":690}]},
"mark":{"type":"text","font":"Liberation Serif","fontWeight":"bold","fontSize":17,"align":"center","baseline":"middle","color":"#111111"},
"encoding":{"text":{"field":"t"}}}
]
}
